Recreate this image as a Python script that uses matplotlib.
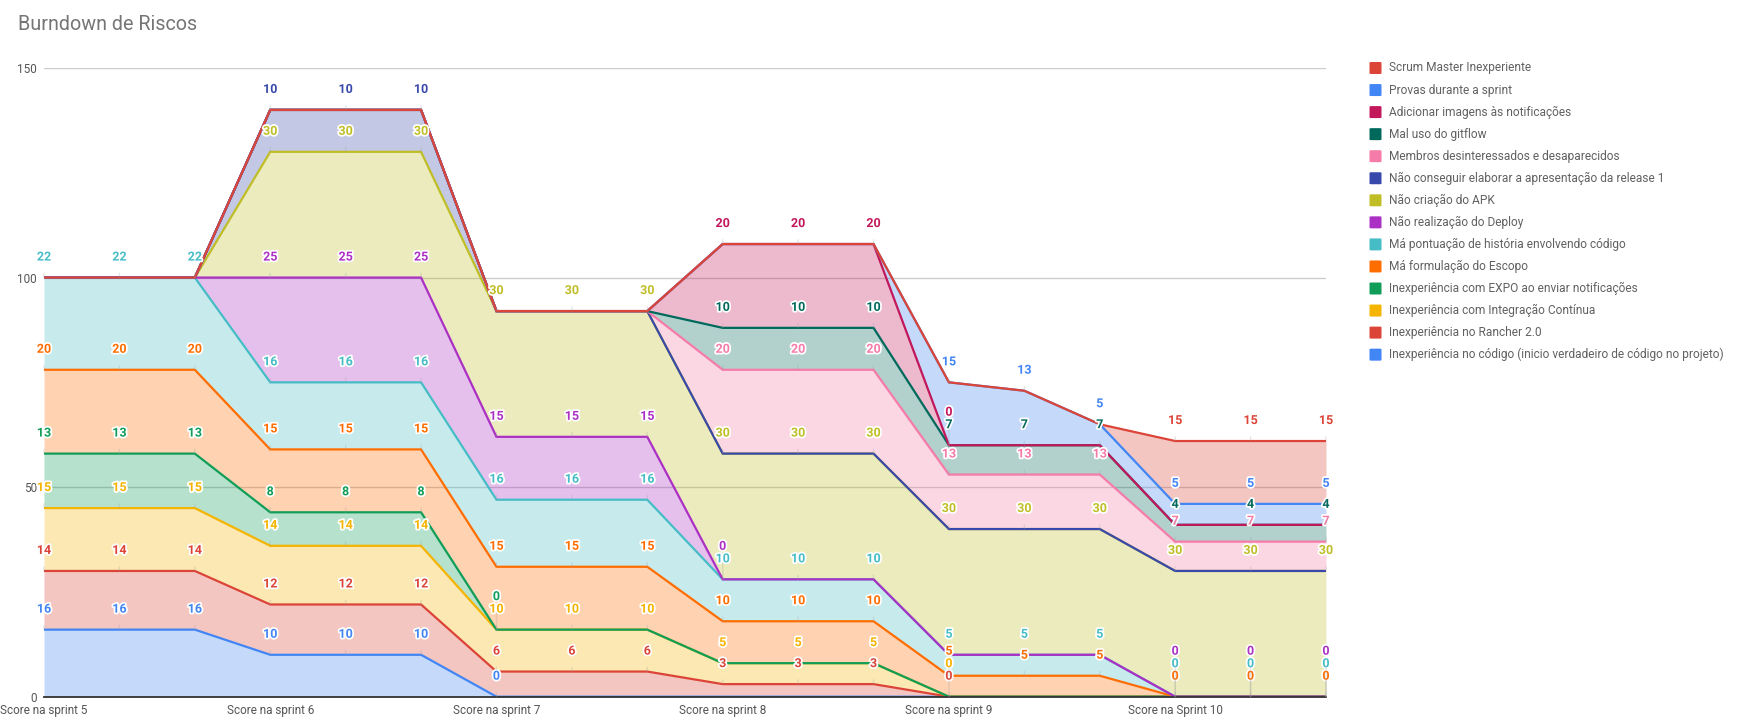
import numpy as np
import matplotlib
matplotlib.use("Agg")
import matplotlib.pyplot as plt
import matplotlib.patheffects as pe
from matplotlib.patches import FancyBboxPatch

plt.rcParams['font.family'] = ['Roboto', 'DejaVu Sans']

sprints = ["Score na sprint 5", "Score na sprint 6", "Score na sprint 7",
           "Score na sprint 8", "Score na sprint 9", "Score na Sprint 10"]
points_per_sprint = 3
n = None

# series listed bottom of the stack first
codigo = [16, 16, 16, 10, 10, 10, 0, n, n, n, n, n, n, n, n, n, n, n]
rancher = [14, 14, 14, 12, 12, 12, 6, 6, 6, 3, 3, 3, 0, n, n, n, n, n]
integracao = [15, 15, 15, 14, 14, 14, 10, 10, 10, 5, 5, 5, 0, n, n, n, n, n]
expo = [13, 13, 13, 8, 8, 8, 0, n, n, n, n, n, n, n, n, n, n, n]
escopo = [20, 20, 20, 15, 15, 15, 15, 15, 15, 10, 10, 10, 5, 5, 5, 0, 0, 0]
pontuacao = [22, 22, 22, 16, 16, 16, 16, 16, 16, 10, 10, 10, 5, 5, 5, 0, 0, 0]
deploy = [n, n, n, 25, 25, 25, 15, 15, 15, 0, n, n, n, n, n, 0, 0, 0]
apk = [n, n, n, 30, 30, 30, 30, 30, 30, 30, 30, 30, 30, 30, 30, 30, 30, 30]
apresentacao = [n, n, n, 10, 10, 10, n, n, n, n, n, n, n, n, n, n, n, n]
membros = [n, n, n, n, n, n, n, n, n, 20, 20, 20, 13, 13, 13, 7, 7, 7]
gitflow = [n, n, n, n, n, n, n, n, n, 10, 10, 10, 7, 7, 7, 4, 4, 4]
imagens = [n, n, n, n, n, n, n, n, n, 20, 20, 20, 0, n, n, n, n, n]
provas = [n, n, n, n, n, n, n, n, n, n, n, n, 15, 13, 5, 5, 5, 5]
scrum = [n, n, n, n, n, n, n, n, n, n, n, n, n, n, n, 15, 15, 15]

series = [codigo, rancher, integracao, expo, escopo, pontuacao, deploy, apk,
          apresentacao, membros, gitflow, imagens, provas, scrum]
names = ["Inexperiência no código (inicio verdadeiro de código no projeto)",
         "Inexperiência no Rancher 2.0",
         "Inexperiência com Integração Contínua",
         "Inexperiência com EXPO ao enviar notificações",
         "Má formulação do Escopo",
         "Má pontuação de história envolvendo código",
         "Não realização do Deploy",
         "Não criação do APK",
         "Não conseguir elaborar a apresentação da release 1",
         "Membros desinteressados e desaparecidos",
         "Mal uso do gitflow",
         "Adicionar imagens às notificações",
         "Provas durante a sprint",
         "Scrum Master Inexperiente"]
colors = ['#4285F4', '#DB4437', '#F4B400', '#0F9D58', '#FF6D00', '#46BDC6',
          '#AB30C4', '#C0BE27', '#3949AB', '#F57BA8', '#00695C', '#C2185B',
          '#4285F4', '#DB4437']

W, H = 1744, 723
fig = plt.figure(figsize=(W / 100, H / 100), dpi=100)
ax = fig.add_axes([44 / W, 26.3 / H, (1326 - 44) / W, 628.7 / H])

npts = len(sprints) * points_per_sprint
x = np.arange(npts)
vals = [np.array([np.nan if v is None else v for v in s], dtype=float) for s in series]
cum = np.cumsum([np.nan_to_num(v) for v in vals], axis=0)

# areas
lower = np.zeros(npts)
for k in range(len(series)):
    ax.fill_between(x, lower, cum[k], color=colors[k], alpha=0.3, lw=0, zorder=2)
    lower = cum[k]
# lines
for k in range(len(series)):
    ax.plot(x, cum[k], color=colors[k], lw=1.6, zorder=3, solid_joinstyle='miter')

ax.set_xlim(0, npts - 1)
ax.set_ylim(0, 150)
ax.set_yticks([0, 50, 100, 150])
ax.grid(axis='y', color='#cccccc', lw=1, zorder=0)
ax.set_axisbelow(True)
for s in ['top', 'right', 'left']:
    ax.spines[s].set_visible(False)
ax.spines['bottom'].set_color('#333333')
ax.spines['bottom'].set_linewidth(1.3)
ax.spines['bottom'].set_zorder(4)
ax.set_xticks(x[::points_per_sprint])
ax.set_xticklabels(sprints)
ax.tick_params(axis='both', length=0, colors='#555555', labelsize=8.5)
ax.tick_params(axis='x', pad=5)
ax.tick_params(axis='y', pad=5)

# data labels, pushed upward when they would collide
px_per_unit = ax.bbox.height / 150.0
base_off = 20.5
min_gap = 12.5
halo = [pe.withStroke(linewidth=2.5, foreground='white')]
for j in range(npts):
    last = -1e9
    for k in range(len(series)):
        v = vals[k][j]
        if np.isnan(v):
            continue
        top_px = cum[k][j] * px_per_unit
        lab_px = top_px + base_off
        if lab_px < last + min_gap:
            lab_px = last + min_gap
        last = lab_px
        off_pt = (lab_px - top_px) * 72.0 / fig.dpi
        ax.annotate(f"{int(v)}", xy=(j, cum[k][j]), xytext=(0, off_pt),
                    textcoords='offset points', ha='center', va='center',
                    fontsize=9, fontweight='bold', color=colors[k],
                    path_effects=halo, zorder=6, annotation_clip=False,
                    arrowprops=dict(arrowstyle='-', color='#9e9e9e', alpha=0.25,
                                    lw=1, shrinkA=5, shrinkB=0))

fig.text(18 / W, 1 - 25 / H, "Burndown de Riscos", fontsize=14.2, color='#757575',
         va='center', ha='left')

# legend, top entry = top of the stack
ly0 = 68
dy = 22.05
for i, k in enumerate(range(len(series) - 1, -1, -1)):
    yc = ly0 + i * dy
    fig.patches.append(FancyBboxPatch((1369.5 / W, 1 - (yc + 6) / H), 12 / W, 12 / H,
                                      boxstyle='round,pad=0,rounding_size=0.001',
                                      transform=fig.transFigure, facecolor=colors[k],
                                      edgecolor='none'))
    fig.text(1389 / W, 1 - yc / H, names[k], fontsize=8.6, color='#616161',
             va='center', ha='left')

fig.savefig("out.png", dpi=100)
